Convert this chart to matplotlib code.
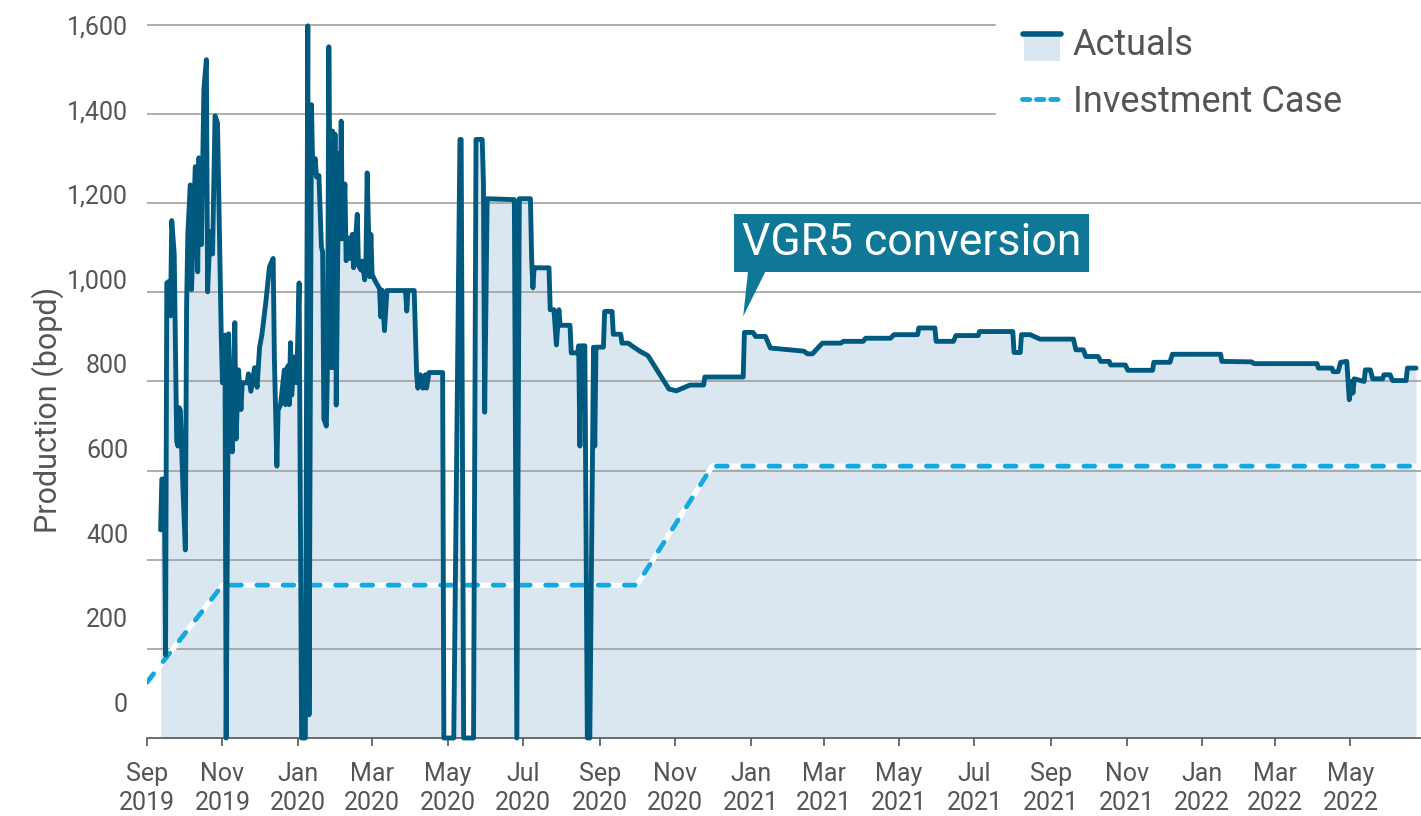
import numpy as np
import pandas as pd
import matplotlib
matplotlib.use('Agg')
import matplotlib.pyplot as plt
import matplotlib.dates as mdates
from matplotlib.patches import Rectangle
from matplotlib.lines import Line2D
from matplotlib.legend_handler import HandlerBase

plt.rcParams['font.family'] = ['Liberation Sans Narrow', 'Roboto', 'DejaVu Sans']

# ------------------------------
# Data
# ------------------------------
start = pd.Timestamp('2019-09-01')

# day number counted from 1 Sep 2019
actual_day = [
    11, 12, 14, 15, 16, 18, 19, 20, 22, 24, 25, 26, 27, 29, 31, 32, 33, 35, 36, 39,
    41, 42, 44, 46, 48, 49, 51, 53, 55, 57, 60, 61, 63, 64, 66, 67, 69, 71, 72, 74,
    76, 77, 81, 82, 84, 87, 89, 91, 93, 96, 99, 102, 103, 105, 106, 108, 111, 112, 114, 115,
    116, 117, 119, 121, 123, 125,
    128, 130, 131, 133, 134, 136, 137, 139, 141, 142, 143, 145, 146, 147, 149, 150, 151, 152, 153, 155,
    156, 157, 158, 160, 161, 163, 164, 166, 167, 170, 171, 173, 174, 176, 177, 178, 180, 181, 182, 184,
    186, 188, 189, 190, 192, 194, 209, 210, 211, 216, 218, 219, 221, 223, 225, 226, 228, 239, 240,
    248, 253, 254, 256, 264, 266, 271, 272, 273, 275, 297, 299, 301, 310, 311, 312, 313, 325, 326, 329,
    331, 333, 334, 342, 343, 348, 349, 350, 351, 354, 356, 358, 361, 362, 363, 369, 370, 376,
    377, 383, 384, 389, 393, 399, 405, 422, 428, 439, 450, 451, 482, 483, 490, 492, 500, 504, 531, 534,
    538, 546, 561, 563, 579, 581, 601, 604, 623, 624, 637, 638, 652, 654, 672, 673, 700, 701, 706, 707,
    714, 722, 749, 751, 757, 759, 769, 771, 778, 779, 791, 793, 813, 814, 827, 829, 868, 869, 893, 895,
    946, 947, 958, 959, 963, 965, 970, 972, 974, 975, 976, 984, 985, 989, 991, 999, 1000, 1005, 1007, 1018,
    1019, 1026,
]
actual_bopd = [
    467, 581, 581, 186, 1021, 1025, 947, 1161, 1086, 667, 655, 741, 735, 565, 422, 966, 1131, 1241, 1006, 1282,
    1046, 1302, 1107, 1457, 1522, 1001, 1136, 1086, 1396, 1380, 907, 797, 904, 0, 907, 780, 642, 932, 671, 826,
    737, 797, 797, 817, 778, 831, 787, 876, 907, 976, 1057, 1076, 850, 610, 736, 748, 826, 748, 835, 748,
    887, 769, 855, 797, 1021, 0,
    0, 1598, 52, 1421, 1268, 1300, 1259, 1262, 1102, 1090, 716, 700, 850, 1551, 831, 1362, 831, 1355, 747, 1311,
    1120, 1384, 1120, 1243, 1071, 1122, 1076, 1130, 1055, 1175, 1060, 1050, 1070, 1028, 1070, 1268, 1035, 1130, 1040, 1028,
    1018, 1008, 945, 1005, 914, 1004, 1004, 958, 1004, 1004, 815, 785, 815, 785, 815, 785, 820, 820, 0,
    0, 1343, 1343, 0, 0, 1343, 1343, 1246, 731, 1210, 1208, 0, 1210, 1210, 1073, 1010, 1055, 1055, 961, 961,
    882, 961, 926, 926, 864, 864, 880, 655, 880, 880, 0, 0, 877, 655, 877, 877, 957, 957,
    906, 906, 886, 886, 878, 867, 858, 783, 779, 792, 792, 810, 810, 910, 910, 901, 901, 875, 868, 862,
    862, 886, 886, 890, 890, 897, 897, 905, 905, 920, 920, 890, 890, 903, 903, 912, 912, 865, 865, 905,
    905, 895, 895, 871, 871, 856, 856, 845, 845, 837, 837, 825, 825, 843, 843, 861, 861, 845, 844, 840,
    840, 830, 830, 822, 822, 843, 845, 759, 800, 774, 806, 800, 826, 826, 806, 806, 815, 815, 802, 802,
    830, 830,
]

case_dates = ['2019-09-01', '2019-11-01', '2020-10-01', '2020-12-01', '2022-06-24']
case_bopd = [125, 343, 343, 610, 610]

grid_values = [200, 400, 600, 800, 1000, 1200, 1400, 1600]
y_labels = ['0', '200', '400', '600', '800', '1,000', '1,200', '1,400', '1,600']
label_values = [0, 200, 400, 600, 800, 1000, 1200, 1400, 1600]

conversion_date = '2020-12-26'
conversion_level = 946

# colours
LINE = '#005A80'
FILL = '#DAE6F0'
CASE = '#12A9E0'
BOX = '#0E7896'
TEXT = '#555555'

# ------------------------------
# Plot
# ------------------------------
dates = start + pd.to_timedelta(actual_day, unit='D')
case_x = pd.to_datetime(case_dates)

fig = plt.figure(figsize=(14.21, 8.16), dpi=100)
ax = fig.add_axes([147 / 1421, 78 / 816, 1 - 147 / 1421, 722 / 816])

ax.fill_between(dates, actual_bopd, 0, color=FILL, lw=0, zorder=0.2)

for v in grid_values:
    xmax = 0.666 if v >= 1400 else 1.0
    ax.axhline(v, xmax=xmax, color='#999999', lw=1.1, zorder=0.5)

ax.plot(case_x, case_bopd, color='white', lw=3.8, zorder=2, solid_capstyle='butt')
ax.plot(case_x, case_bopd, color=CASE, lw=3.5, dashes=(2.2, 3.2), dash_capstyle='round', zorder=2.1)
ax.plot(dates, actual_bopd, color=LINE, lw=3.5, solid_joinstyle='round', solid_capstyle='round',
        zorder=3, clip_on=False)

ax.set_ylim(0, 1620)
ax.set_xlim(pd.Timestamp('2019-09-01'), pd.Timestamp('2022-06-27'))

# axes styling
for s in ['top', 'right', 'left']:
    ax.spines[s].set_visible(False)
ax.spines['bottom'].set_color('#555555')
ax.spines['bottom'].set_linewidth(1.2)
ax.set_yticks([])
ax.xaxis.set_major_locator(mdates.MonthLocator(bymonth=[1, 3, 5, 7, 9, 11]))
ax.xaxis.set_major_formatter(mdates.DateFormatter('%b\n%Y'))
ax.tick_params(axis='x', length=6, width=1.2, color='#555555', labelcolor=TEXT,
               labelsize=18, pad=11)
for lab in ax.get_xticklabels():
    lab.set_linespacing(1.3)

# y labels (sit a little off the gridlines, like the original)
ytrans = ax.get_yaxis_transform()
for v, s in zip(label_values, y_labels):
    ax.text(-0.0149, 74 + 0.95 * v, s, transform=ytrans, ha='right', va='center',
            fontsize=18, color=TEXT)
fig.text(48 / 1421, 1 - 410 / 816, 'Production (bopd)', rotation=90, ha='center', va='center',
         fontsize=22, color=TEXT)

# annotation
ax.annotate('VGR5 conversion', xy=(pd.Timestamp(conversion_date), conversion_level),
            xytext=(121, 53), textcoords='offset points', ha='center', va='center',
            fontsize=32, color='white', zorder=5,
            bbox=dict(boxstyle='square,pad=0.18', fc=BOX, ec='none'),
            arrowprops=dict(arrowstyle='wedge,tail_width=0.44,shrink_factor=0.5', fc=BOX, ec='none',
                            relpos=(0.05, 0.0), shrinkA=0, shrinkB=0, patchA=None))


# legend
class AreaHandler(HandlerBase):
    def create_artists(self, legend, orig_handle, xdescent, ydescent, width, height, fontsize, trans):
        x0, y0 = -xdescent, -ydescent
        rect = Rectangle((x0 + 0.06 * width, y0 - 0.25 * height), 0.9 * width, 1.05 * height,
                         fc=FILL, ec='none', transform=trans)
        line = Line2D([x0 + 0.03 * width, x0 + 0.97 * width], [y0 + 0.85 * height] * 2,
                      color=LINE, lw=4.0, solid_capstyle='round', transform=trans)
        return [rect, line]


h_act = Rectangle((0, 0), 1, 1)
h_case = Line2D([], [], color=CASE, lw=3.5, dashes=(1.5, 1.4), dash_capstyle='round')
leg = ax.legend([h_act, h_case], ['Actuals', 'Investment Case'],
                handler_map={Rectangle: AreaHandler()},
                loc='upper left', bbox_to_anchor=(1022 / 1421, 1 - 27 / 816),
                bbox_transform=fig.transFigure, frameon=False, borderpad=0, borderaxespad=0,
                fontsize=26, labelcolor=TEXT, handlelength=1.1, handletextpad=0.3,
                labelspacing=0.58)

fig.savefig('out.png', dpi=100)
